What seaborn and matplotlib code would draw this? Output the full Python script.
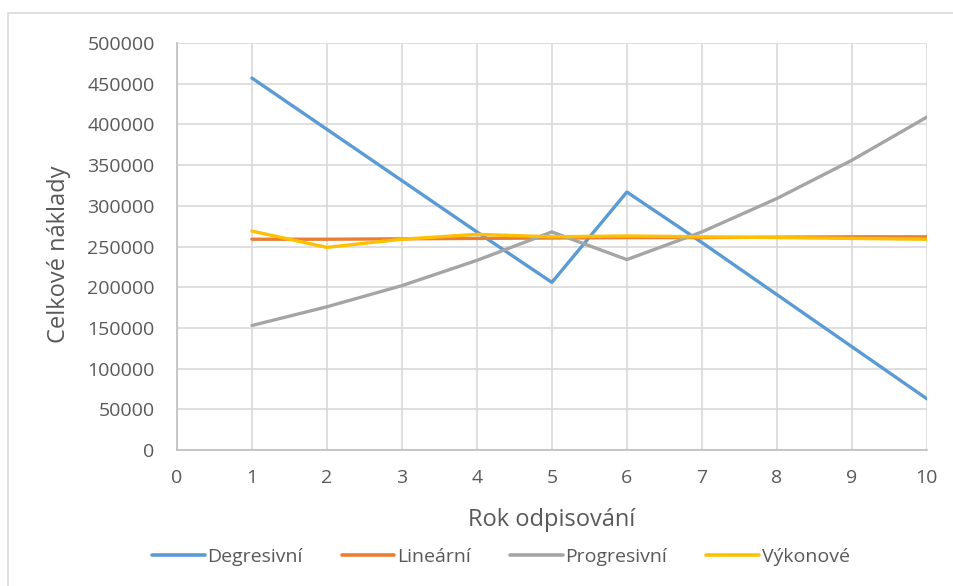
import pandas as pd
import numpy as np
import matplotlib.pyplot as plt
import seaborn as sns
from matplotlib.patches import Rectangle

years = [1, 2, 3, 4, 5, 6, 7, 8, 9, 10]
degresivni = [457000, 394000, 331000, 268000, 206000, 317000, 255000, 191000, 127000, 63000]
linearni = [259000, 259000, 259500, 260000, 260500, 261000, 261000, 261500, 262000, 262000]
progresivni = [153000, 176000, 202000, 233000, 268000, 234000, 268000, 309000, 356000, 409000]
vykonove = [269000, 249000, 259000, 265000, 262000, 263000, 262000, 261000, 260000, 259000]

series_names = ["Degresivní", "Lineární", "Progresivní", "Výkonové"]
colors = ["#5B9BD5", "#ED7D31", "#A5A5A5", "#FFC000"]
text_col = "#595959"

df = pd.DataFrame({
    "Rok": years * 4,
    "Hodnota": degresivni + linearni + progresivni + vykonove,
    "Metoda": sum([[n] * len(years) for n in series_names], []),
})

sns.set_style("white")
plt.rcParams['font.family'] = ['Open Sans', 'DejaVu Sans']

fig = plt.figure(figsize=(9.54, 5.86), dpi=100)
ax = fig.add_axes([0.1855, 0.232, 0.786, 0.6945])

sns.lineplot(data=df, x="Rok", y="Hodnota", hue="Metoda", palette=colors,
             linewidth=2.4, ax=ax, legend=False)

ax.set_xlim(0, 10)
ax.set_ylim(0, 500000)
ax.set_xticks(range(0, 11))
ax.set_yticks(range(0, 500001, 50000))
ax.set_yticklabels([str(v) for v in range(0, 500001, 50000)])
ax.grid(True, color="#D9D9D9", linewidth=1.2)
ax.set_axisbelow(True)
for s in ["top", "right"]:
    ax.spines[s].set_visible(False)
ax.spines["left"].set_color("#BFBFBF")
ax.spines["bottom"].set_color("#BFBFBF")
ax.spines["left"].set_linewidth(1.2)
ax.spines["bottom"].set_linewidth(1.2)
ax.tick_params(axis="y", length=0, labelsize=14, colors=text_col, pad=16)
ax.tick_params(axis="x", length=0, labelsize=14, colors=text_col, pad=14)
ax.set_xlabel("Rok odpisování", fontsize=17, color=text_col, va="center")
ax.set_ylabel("Celkové náklady", fontsize=17, color=text_col, va="center")
ax.xaxis.set_label_coords(0.5, -0.172)
ax.yaxis.set_label_coords(-0.157, 0.48)

handles = [plt.Line2D([0], [0], color=c, linewidth=2.6) for c in colors]
fig.legend(handles, series_names, loc="center", bbox_to_anchor=(0.525, 0.05),
           ncol=4, frameon=False, fontsize=14, handlelength=2.7,
           columnspacing=2.0, handletextpad=0.15, labelcolor=text_col)

fig.patches.append(Rectangle((0.0084, -0.05), 1.5, 1.028, transform=fig.transFigure,
                             fill=False, edgecolor="#D9D9D9", linewidth=1.2))

fig.savefig("out.png", dpi=100)
